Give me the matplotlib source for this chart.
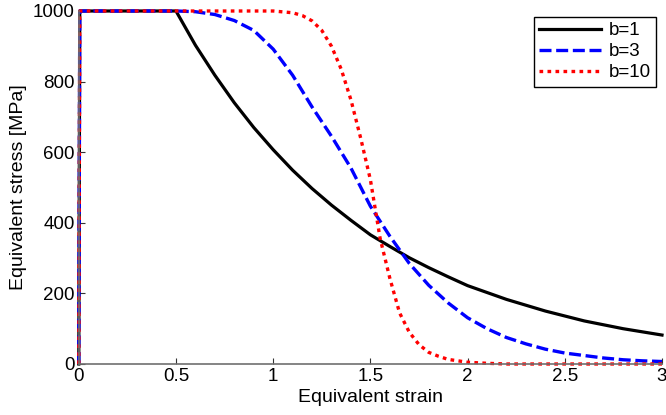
import matplotlib
matplotlib.use('Agg')
import matplotlib.pyplot as plt

# Curves (strain, stress in MPa)
strain_b1 = [0, 0.005, 0.5, 0.6, 0.7, 0.8, 0.9, 1.0, 1.1, 1.2, 1.3, 1.4, 1.5,
             1.6, 1.7, 1.8, 1.9, 2.0, 2.2, 2.4, 2.6, 2.8, 3.0]
stress_b1 = [0, 1000, 1000, 903, 818, 740, 670, 607, 549, 497, 450, 407, 366,
             333, 301, 273, 247, 222, 183, 150, 122, 100, 82]

strain_b3 = [0, 0.005, 0.5, 0.6, 0.7, 0.8, 0.9, 1.0, 1.1, 1.2, 1.3, 1.4, 1.5,
             1.6, 1.7, 1.8, 1.9, 2.0, 2.1, 2.2, 2.3, 2.4, 2.5, 2.6, 2.7, 2.8,
             2.9, 3.0]
stress_b3 = [0, 1000, 1000, 998, 990, 973, 945, 892, 818, 728, 645, 555, 447,
             362, 285, 223, 173, 131, 100, 75, 57, 42, 31, 24, 17, 12, 9, 7]

strain_b10 = [0, 0.005, 1.0, 1.1, 1.15, 1.2, 1.25, 1.3, 1.35, 1.4, 1.45, 1.5,
              1.55, 1.6, 1.65, 1.7, 1.75, 1.8, 1.85, 1.9, 2.0, 2.1, 2.2, 3.0]
stress_b10 = [0, 1000, 1000, 995, 987, 972, 945, 900, 835, 748, 640, 522,
              356, 243, 145, 90, 55, 33, 22, 13, 5, 2, 0, 0]

x_ticks = [0, 0.5, 1, 1.5, 2, 2.5, 3]
x_tick_labels = ['0', '0.5', '1', '1.5', '2', '2.5', '3']
y_ticks = [0, 200, 400, 600, 800, 1000]

plt.rcParams['font.family'] = ['Liberation Sans', 'DejaVu Sans']

fig = plt.figure(figsize=(6.66, 4.15), dpi=100)
ax = fig.add_axes([0.1183, 0.1229, 0.8757, 0.8506])

# Draw order: black, blue, red (red on top)
ax.plot(strain_b1, stress_b1, color='black', lw=2.3, label='b=1', clip_on=False)
ax.plot(strain_b3, stress_b3, color='blue', lw=2.4, linestyle=(0, (3.6, 1.4)),
        label='b=3', clip_on=False)
ax.plot(strain_b10, stress_b10, color='red', lw=2.4, linestyle=(0, (1.1, 1.3)),
        label='b=10', clip_on=False)

ax.set_xlim(0, 3)
ax.set_ylim(0, 1000)
ax.set_xticks(x_ticks)
ax.set_xticklabels(x_tick_labels)
ax.set_yticks(y_ticks)

ax.spines['top'].set_visible(False)
ax.spines['right'].set_visible(False)
for s in ['left', 'bottom']:
    ax.spines[s].set_color('#707070')
    ax.spines[s].set_linewidth(1.2)
ax.tick_params(direction='in', length=4, width=0.8, color='#333333',
               labelsize=13.5, pad=3)

ax.set_xlabel('Equivalent strain', fontsize=14, labelpad=3)
ax.set_ylabel('Equivalent stress [MPa]', fontsize=14, labelpad=4)

leg = ax.legend(loc='upper right', fontsize=13.5, handlelength=3.3,
                fancybox=False, framealpha=1, borderaxespad=0.3,
                labelspacing=0.2, handletextpad=0.4, borderpad=0.3)
leg.get_frame().set_edgecolor('black')
leg.get_frame().set_linewidth(1.0)

fig.savefig('out.png', dpi=100)
